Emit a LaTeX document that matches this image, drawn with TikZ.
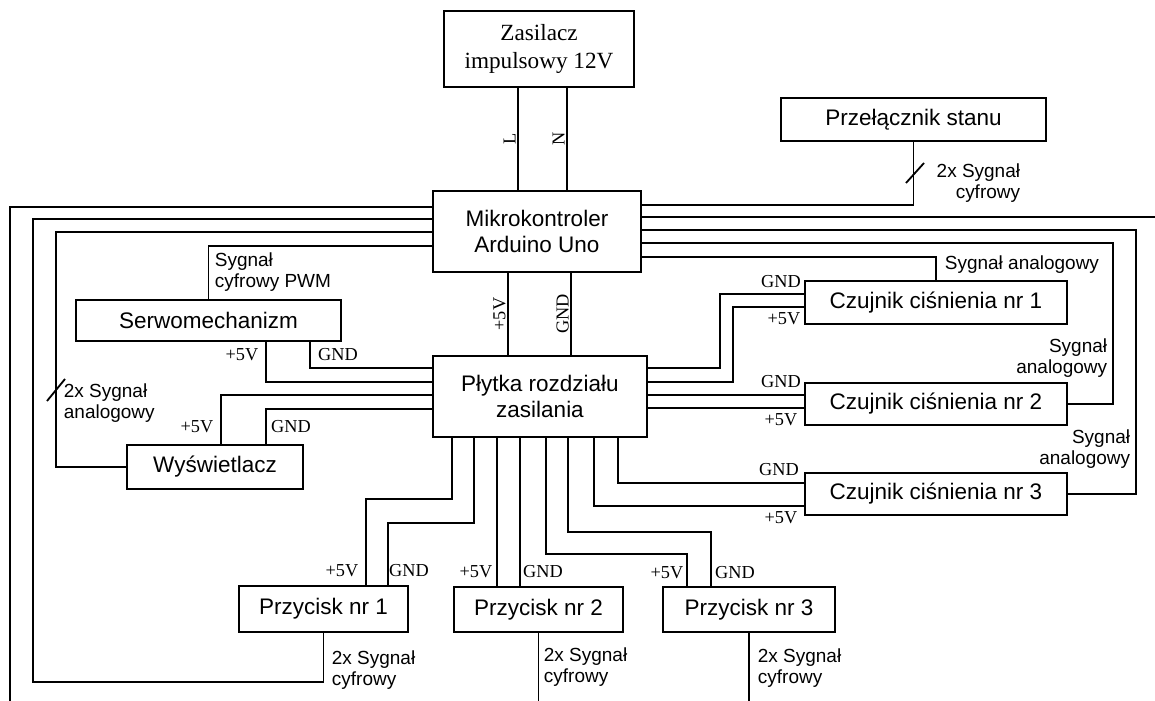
\documentclass[tikz,border=0pt]{standalone}
\usepackage{fontspec}
\setmainfont{Liberation Sans}
\newfontfamily\szeryf{Liberation Serif}
\begin{document}
\begin{tikzpicture}[x=0.025cm, y=-0.025cm, line width=1.3pt,
    blok/.style={draw, align=center, inner sep=0pt, font=\fontsize{16}{19}\selectfont},
    rozmiar/.style 2 args={minimum width=#1*0.025cm, minimum height=#2*0.025cm},
    napis/.style={font=\szeryf\fontsize{13}{15}\selectfont, inner sep=1pt},
    opis/.style={font=\fontsize{13.5}{15}\selectfont, inner sep=0pt}]
\useasboundingbox (0,0) rectangle (1155,701);
% bloki
\node[blok, rozmiar={190}{76}, font=\szeryf\fontsize{16.5}{20.5}\selectfont] (zas) at (539,49) {Zasilacz\\impulsowy 12V};
\node[blok, rozmiar={208}{81}] (mcu) at (537,231.5) {Mikrokontroler\\Arduino Uno};
\node[blok, rozmiar={265}{43}] (sw) at (913.5,119.5) {Przełącznik stanu};
\node[blok, rozmiar={265}{41}] (serwo) at (208.5,320.5) {Serwomechanizm};
\node[blok, rozmiar={214}{81}] (pdb) at (540,396.5) {Płytka rozdziału\\zasilania};
\node[blok, rozmiar={176}{44}] (lcd) at (215,467) {Wyświetlacz};
\node[blok, rozmiar={262}{43}] (c1) at (936,302.5) {Czujnik ciśnienia nr 1};
\node[blok, rozmiar={262}{42}] (c2) at (936,404) {Czujnik ciśnienia nr 2};
\node[blok, rozmiar={262}{42}] (c3) at (936,494) {Czujnik ciśnienia nr 3};
\node[blok, rozmiar={169}{46}] (b1) at (323.5,609) {Przycisk nr 1};
\node[blok, rozmiar={169}{45}] (b2) at (538.5,609.5) {Przycisk nr 2};
\node[blok, rozmiar={172}{45}] (b3) at (749,609.5) {Przycisk nr 3};
\coordinate (krawedzL) at (10,701);
\coordinate (krawedzP) at (1155,217);
\coordinate (dol2) at (b2.south |- 0,701);
\coordinate (dol3) at (b3.south |- 0,701);
% zasilanie 12V i 5V
\draw (zas.south -| 518,0) -- node[napis, rotate=90, anchor=south] (etL) {L} (mcu.north -| 518,0);
\draw (zas.south -| 567,0) -- node[napis, rotate=90, anchor=south] (etN) {N} (mcu.north -| 567,0);
\draw (mcu.south -| 508,0) -- node[napis, rotate=90, anchor=south] (et5V) {+5V} (pdb.north -| 508,0);
\draw (mcu.south -| 571,0) -- node[napis, rotate=90, anchor=south] (etGND) {GND} (pdb.north -| 571,0);
% sygnaly z lewej strony
\draw (mcu.west |- 0,207) -| (krawedzL);
\draw (mcu.west |- 0,219) -| (33,682) -| (b1.south);
\draw (mcu.west |- 0,232) -| (56,0|-lcd.west) -- (lcd.west);
\draw (mcu.west |- 0,246) -| (serwo.north);
\draw (47,401) -- (65,379);
% sygnaly z prawej strony
\draw (mcu.east |- 0,205) -| (sw.south);
\draw (mcu.east |- 0,217) -- (krawedzP);
\draw (mcu.east |- 0,230) -| (1136,0|-c3.east) -- (c3.east);
\draw (mcu.east |- 0,243) -| (1113,0|-c2.east) -- (c2.east);
\draw (mcu.east |- 0,257) -| (c1.north);
\draw (906,183) -- (924,163);
% plytka - lewa strona
\draw (pdb.west |- 0,368) -| (310,0|-serwo.south);
\draw (pdb.west |- 0,382) -| (266,0|-serwo.south);
\draw (pdb.west |- 0,395) -| (221,0|-lcd.north);
\draw (pdb.west |- 0,409) -| (266,0|-lcd.north);
% plytka - prawa strona
\draw (pdb.east |- 0,368) -| (720,294) -- (c1.west |- 0,294);
\draw (pdb.east |- 0,382) -| (733,307) -- (c1.west |- 0,307);
\draw (pdb.east |- 0,395) -- (c2.west |- 0,395);
\draw (pdb.east |- 0,408) -- (c2.west |- 0,408);
% plytka - dol
\draw (pdb.south -| 452,0) |- (366,499) -- (b1.north -| 366,0);
\draw (pdb.south -| 474,0) |- (388,523) -- (b1.north -| 388,0);
\draw (pdb.south -| 497,0) -- (b2.north -| 497,0);
\draw (pdb.south -| 520,0) -- (b2.north -| 520,0);
\draw (pdb.south -| 546,0) |- (687,554) -- (b3.north -| 687,0);
\draw (pdb.south -| 568,0) |- (711,532) -- (b3.north -| 711,0);
\draw (pdb.south -| 594,0) |- (c3.west |- 0,506);
\draw (pdb.south -| 618,0) |- (c3.west |- 0,483);
\draw (b2.south) -- (dol2);
\draw (b3.south) -- (dol3);
% opisy napiec
\node[napis] (serwo5V) at (242,355) {+5V};
\node[napis] (serwoGND) at (338,355) {GND};
\node[napis] (lcd5V) at (197,427) {+5V};
\node[napis] (lcdGND) at (291,427) {GND};
\node[napis] (b15V) at (342,571) {+5V};
\node[napis] (b1GND) at (409,571) {GND};
\node[napis] (b25V) at (476,572) {+5V};
\node[napis] (b2GND) at (543,572) {GND};
\node[napis] (b35V) at (667,573) {+5V};
\node[napis] (b3GND) at (735,573) {GND};
\node[napis] (c1GND) at (781,282) {GND};
\node[napis] (c15V) at (784,319) {+5V};
\node[napis] (c2GND) at (781,382) {GND};
\node[napis] (c25V) at (781,420) {+5V};
\node[napis] (c3GND) at (779,470) {GND};
\node[napis] (c35V) at (781,518) {+5V};
% opisy sygnalow
\node[opis, anchor=west, align=left] (opisPWM) at (214,272) {Sygnał\\cyfrowy PWM};
\node[opis, anchor=west, align=left] (opisLCD) at (63,403) {2x Sygnał\\analogowy};
\node[opis, anchor=east, align=right] (opisSW) at (1021,183) {2x Sygnał\\cyfrowy};
\node[opis, anchor=west] (opisC1) at (944,265) {Sygnał analogowy};
\node[opis, anchor=east, align=right] (opisC2) at (1108,358) {Sygnał\\analogowy};
\node[opis, anchor=east, align=right] (opisC3) at (1131,449) {Sygnał\\analogowy};
\node[opis, anchor=west, align=left] (opisB1) at (331,670) {2x Sygnał\\cyfrowy};
\node[opis, anchor=west, align=left] (opisB2) at (543,667) {2x Sygnał\\cyfrowy};
\node[opis, anchor=west, align=left] (opisB3) at (757,668) {2x Sygnał\\cyfrowy};
\end{tikzpicture}
\end{document}
